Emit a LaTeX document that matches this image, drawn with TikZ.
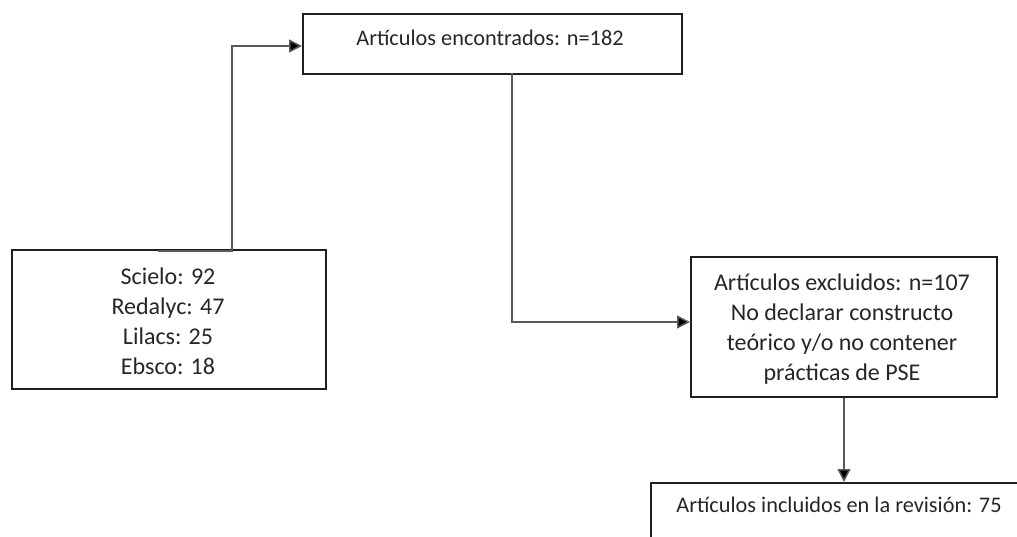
\documentclass[tikz,border=0pt]{standalone}
\usepackage{fontspec}
\setmainfont{Carlito}
\usetikzlibrary{arrows.meta}
\begin{document}
\begin{tikzpicture}[x=1pt,y=-1pt,
  box/.style={draw=black!88,line width=2pt,fill=none,inner sep=0pt,anchor=north west},
  txt/.style={font=\fontsize{22.3}{30}\selectfont,text=black!85,align=center,inner sep=0pt},
  bigtxt/.style={font=\fontsize{24}{30}\selectfont,text=black!85,align=center,inner sep=0pt},
  conn/.style={draw=black!65,line width=1.5pt,-{Triangle[length=13pt,width=13pt,fill=black]}},
  line/.style={draw=black!65,line width=1.5pt}]
\useasboundingbox (0,0) rectangle (1017,537);
\clip (0,0) rectangle (1017,537);
% boxes
\node[box,minimum width=379pt,minimum height=60pt] (top) at (302,13) {};
\node[box,minimum width=314pt,minimum height=139pt] (src) at (11,249) {};
\node[box,minimum width=306pt,minimum height=140pt] (excl) at (690,256) {};
\node[box,minimum width=378pt,minimum height=100pt] (incl) at (650,482) {};
% texts
\node[txt] (ttop) at (490,38) {Artículos encontrados: n=182};
\node[bigtxt] (tsrc) at (168,321) {Scielo: 92\\Redalyc: 47\\Lilacs: 25\\Ebsco: 18};
\node[bigtxt] (texcl) at (842,329) {Artículos excluidos: n=107\\No declarar constructo\\teórico y/o no contener\\prácticas de PSE};
\node[txt] (tincl) at (839,505) {Artículos incluidos en la revisión: 75};
% connectors
\coordinate (s1) at (158,251);
\coordinate (b1) at (232,251);
\coordinate (t1) at (232,46);
\coordinate (e1) at (302,46);
\draw[conn] (s1) -- (b1) -- (t1) -- (e1);
\coordinate (s2) at (512,73);
\coordinate (b2) at (512,322);
\coordinate (e2) at (690,322);
\draw[conn] (s2) -- (b2) -- (e2);
\coordinate (s3) at (844,398);
\coordinate (e3) at (844,482);
\draw[conn] (s3) -- (e3);
\end{tikzpicture}
\end{document}
